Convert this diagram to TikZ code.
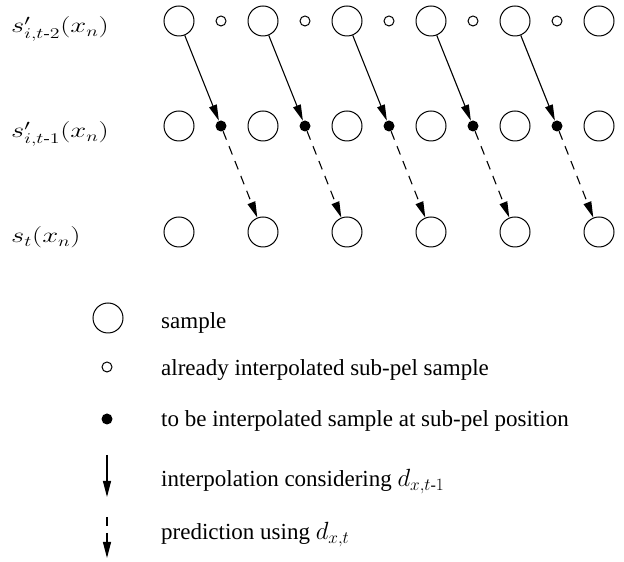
\documentclass[tikz,border=0pt]{standalone}
\usepackage{amsmath}
\usepackage{graphicx}
\usepackage{fontspec}
\setmainfont{Liberation Serif}
\usetikzlibrary{arrows.meta}
\begin{document}
\begin{tikzpicture}[x=1pt,y=1pt,
  big/.style={circle,draw,line width=1pt,minimum size=30pt,inner sep=0pt},
  small/.style={circle,draw,line width=1pt,minimum size=10pt,inner sep=0pt},
  dot/.style={circle,fill,minimum size=11pt,inner sep=0pt},
  interp/.style={line width=1.1pt,-{Triangle[length=16pt,width=8pt]}},
  pred/.style={line width=1.1pt,dash pattern=on 9pt off 7pt,-{Triangle[length=16pt,width=8pt]}},
  lbl/.style={anchor=base west,inner sep=0pt,font=\fontsize{20}{24}\selectfont},
  legtxt/.style={anchor=base west,inner sep=0pt,font=\fontsize{23}{27}\selectfont}]
\useasboundingbox (0,0) rectangle (624,562);
% rows
\foreach \k in {0,...,5}{
  \node[big] (t\k) at ({179+84*\k},{562-21}) {};
  \node[big] (m\k) at ({179+84*\k},{562-126}) {};
  \node[big] (b\k) at ({179+84*\k},{562-232}) {};
}
\foreach \k in {0,...,4}{
  \node[small] (s\k) at ({221+84*\k},{562-21}) {};
  \node[dot] (d\k) at ({221+84*\k},{562-126}) {};
}
\foreach \k [evaluate=\k as \n using int(\k+1)] in {0,...,4}{
  \draw[interp] (t\k) -- (d\k);
  \draw[pred] (d\k) -- (b\n);
}
% row labels
\node[lbl] (l1) at (11,{562-33}) {\scalebox{1.38}[1.03]{$s'_{i,t\text{-}2}(x_n)$}};
\node[lbl] (l2) at (11,{562-138}) {\scalebox{1.38}[1.03]{$s'_{i,t\text{-}1}(x_n)$}};
\node[lbl] (l3) at (11,{562-243}) {\scalebox{1.38}[1.03]{$s_t(x_n)$}};
% legend
\node[big] (g1) at (108,{562-318}) {};
\node[small] (g2) at (107,{562-367}) {};
\node[dot] (g3) at (107,{562-419}) {};
\coordinate (a1) at (107,{562-455});
\coordinate (a2) at (107,{562-497});
\coordinate (p1) at (107,{562-517});
\coordinate (p2) at (107,{562-558});
\draw[interp] (a1) -- (a2);
\draw[pred] (p1) -- (p2);
\node[legtxt] (e1) at (161,{562-329}) {sample};
\node[legtxt] (e2) at (161,{562-376}) {already interpolated sub-pel sample};
\node[legtxt] (e3) at (161,{562-427}) {to be interpolated sample at sub-pel position};
\node[legtxt] (e4) at (161,{562-487}) {interpolation considering $d_{x,t\text{-}1}$};
\node[legtxt] (e5) at (161,{562-540}) {prediction using $d_{x,t}$};
\end{tikzpicture}
\end{document}
